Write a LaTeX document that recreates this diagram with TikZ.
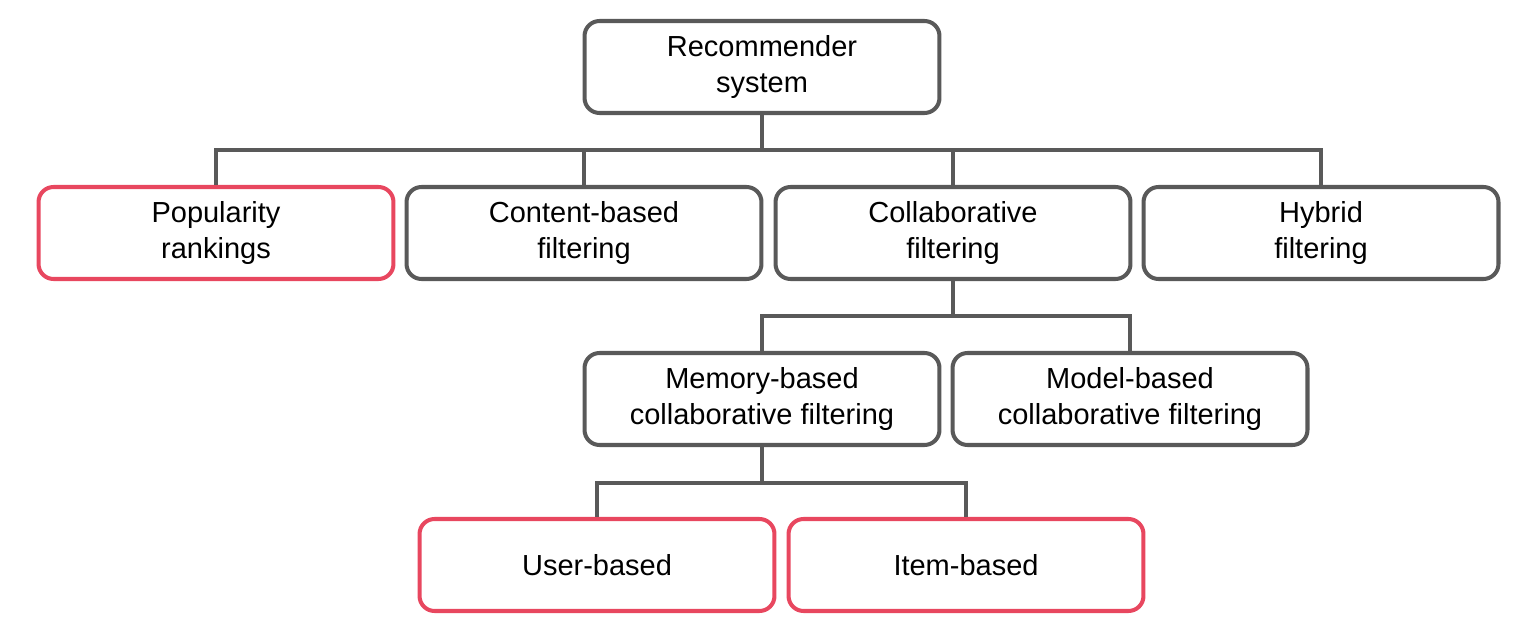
\documentclass[tikz,border=0pt]{standalone}
\usepackage{fontspec}
\setmainfont{Liberation Sans}
\usepackage{tikz}
\definecolor{boxgray}{HTML}{595959}
\definecolor{boxred}{HTML}{E8475F}
\tikzset{every picture/.style={x=0.02cm, y=-0.02cm}}
\tikzset{
  box/.style={draw=boxgray, line width=2.3pt, rounded corners=0.3cm,
    minimum width=7.1cm, minimum height=1.84cm, align=center,
    font=\fontsize{16.5}{20}\selectfont},
  redbox/.style={box, draw=boxred},
  link/.style={draw=boxgray, line width=2.3pt}
}

\begin{document}
\begin{tikzpicture}
    \useasboundingbox (0,0) rectangle (1518,631);
    % top level
    \node[box] (rec) at (762,67) {Recommender\\system};
    \node[redbox] (pop) at (216,233) {Popularity\\rankings};
    \node[box] (content) at (584,233) {Content-based\\filtering};
    \node[box] (collab) at (953,233) {Collaborative\\filtering};
    \node[box] (hybrid) at (1321,233) {Hybrid\\filtering};
    % collaborative filtering
    \node[box] (memory) at (762,399) {Memory-based\\collaborative filtering};
    \node[box] (model) at (1130,399) {Model-based\\collaborative filtering};
    % memory-based
    \node[redbox] (user) at (597,565) {User-based};
    \node[redbox] (item) at (966,565) {Item-based};
    % connectors
    \coordinate (bus1) at (762,150);
    \coordinate (bus2) at (953,316);
    \coordinate (bus3) at (762,483);
    \draw[link] (rec.south) -- (bus1);
    \draw[link] (bus1) -| (pop.north);
    \draw[link] (bus1) -| (content.north);
    \draw[link] (bus1) -| (collab.north);
    \draw[link] (bus1) -| (hybrid.north);
    \draw[link] (collab.south) -- (bus2);
    \draw[link] (bus2) -| (memory.north);
    \draw[link] (bus2) -| (model.north);
    \draw[link] (memory.south) -- (bus3);
    \draw[link] (bus3) -| (user.north);
    \draw[link] (bus3) -| (item.north);
\end{tikzpicture}
\end{document}
